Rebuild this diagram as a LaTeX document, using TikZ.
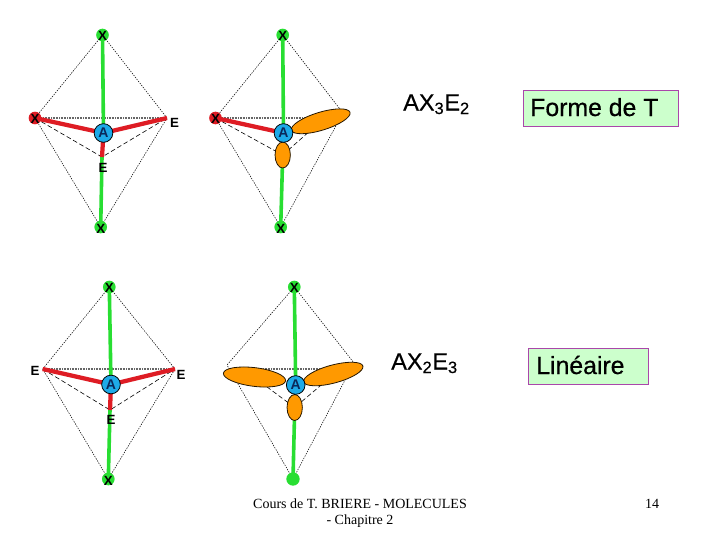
\documentclass[tikz,border=0pt]{standalone}
\usepackage{fontspec}
\setmainfont{Liberation Sans}
\newfontfamily\serifface{Liberation Serif}
\newfontfamily\heavyface[FakeBold=0.5]{Liberation Sans}
\newfontfamily\boldface{Liberation Sans Bold}
\definecolor{gbond}{RGB}{40,222,50}
\definecolor{rbond}{RGB}{222,28,36}
\definecolor{ablue}{RGB}{30,170,232}
\definecolor{lobe}{RGB}{255,153,0}
\definecolor{boxfill}{RGB}{204,255,204}
\definecolor{boxline}{RGB}{170,70,170}
\definecolor{atext}{RGB}{10,40,90}
\tikzset{
  pt/.style={inner sep=0pt,minimum size=0pt,outer sep=0pt},
  edgeline/.style={black,line width=0.4pt,dash pattern=on 1pt off 0.9pt},
  rearline/.style={black,line width=0.45pt,dash pattern=on 3.5pt off 2pt},
  planeline/.style={black!60,line width=1.1pt,dash pattern=on 0.6pt off 0.6pt},
  gb/.style={gbond,line width=2.7pt},
  rb/.style={rbond,line width=3.2pt},
  gdot/.style={circle,fill=gbond,inner sep=0pt,minimum size=9.5pt},
  rdot/.style={circle,fill=rbond,inner sep=0pt,minimum size=9.5pt},
  centre/.style={circle,draw=black,line width=0.6pt,fill=ablue,inner sep=0pt,minimum size=14pt,text=atext,font=\fontsize{10.5}{11}\boldface},
  lab/.style={inner sep=0pt,font=\fontsize{10}{10}\boldface},
  lobeshape/.style={ellipse,draw=black!85!lobe,line width=0.6pt,fill=lobe,inner sep=0pt},
  formula/.style={inner sep=0pt,anchor=base west,font=\fontsize{17.6}{18}\heavyface},
  namebox/.style={draw=boxline,line width=0.7pt,fill=boxfill,inner sep=0pt,anchor=north west},
  boxtext/.style={inner sep=0pt,anchor=base west,font=\fontsize{18.6}{20}\heavyface},
  foot/.style={inner sep=0pt,font=\fontsize{10.5}{12}\serifface},
}
\usetikzlibrary{shapes.geometric}
\begin{document}
\begin{tikzpicture}[x=0.75pt,y=-0.75pt]
\useasboundingbox (0,0) rectangle (720,540);
% ---------- diagram 1
\coordinate (at) at (102.5,35);
\coordinate (al) at (35,118);
\coordinate (ar) at (167,118);
\coordinate (af) at (102,157);
\coordinate (ab) at (100.7,227);
\coordinate (ac) at (103.5,133);
\draw[edgeline] (at)--(al) (at)--(ar) (ab)--(al) (ab)--(ar);
\draw[rearline] (al)--(af)--(ar);
\draw[planeline] (al)--(ar);
\draw[gb] (at)--(ac) (af)--(ab);
\draw[rb] (al)--(ac) (ar)--(ac) (ac)--(af);
\node[gdot] (atd) at (at) {};
\node[gdot] (abd) at (ab) {};
\node[rdot] (ald) at (al) {};
\node[centre] (aA) at (ac) {A};
\node[lab] (aXt) at (102.5,36) {X};
\node[lab] (aXb) at (100.7,229) {X};
\node[lab] (aXl) at (35,118.5) {X};
\node[lab] (aEr) at (174.5,122.5) {E};
\node[lab] (aEf) at (103,168) {E};
% ---------- diagram 2
\coordinate (bt) at (282.7,35);
\coordinate (bl) at (215.5,118);
\coordinate (br) at (343,113);
\coordinate (bf) at (282.7,155);
\coordinate (bb) at (280.7,227);
\coordinate (bc) at (283.5,133);
\draw[edgeline] (bt)--(bl) (bt)--(br) (bb)--(bl) (bb)--(br);
\draw[rearline] (bl)--(bf) (bf)--(320,122);
\draw[planeline] (bl)--(320,118);
\draw[gb] (bt)--(bc) (bf)--(bb);
\draw[rb] (bl)--(bc);
\node[gdot] (btd) at (bt) {};
\node[gdot] (bbd) at (bb) {};
\node[rdot] (bld) at (bl) {};
\node[lobeshape,minimum width=46pt,minimum height=13.5pt,rotate=17] (blobe) at (320.7,121.3) {};
\node[lobeshape,minimum width=11.5pt,minimum height=19.5pt] (bflobe) at (bf) {};
\node[centre] (bA) at (bc) {A};
\node[lab] (bXt) at (282.7,36) {X};
\node[lab] (bXb) at (280.7,229) {X};
\node[lab] (bXl) at (215.5,118.5) {X};
% ---------- diagram 3
\coordinate (ct) at (109.3,287);
\coordinate (cl) at (42.7,369);
\coordinate (cr) at (175,369);
\coordinate (cf) at (110,410);
\coordinate (cb) at (108.3,479);
\coordinate (cc) at (111,384.5);
\draw[edgeline] (ct)--(cl) (ct)--(cr) (cb)--(cl) (cb)--(cr);
\draw[rearline] (cl)--(cf)--(cr);
\draw[planeline] (cl)--(cr);
\draw[gb] (ct)--(cc) (cf)--(cb);
\draw[rb] (cl)--(cc) (cr)--(cc) (cc)--(cf);
\node[gdot] (ctd) at (ct) {};
\node[gdot] (cbd) at (cb) {};
\node[centre] (cA) at (cc) {A};
\node[lab] (cXt) at (109.3,288) {X};
\node[lab] (cXb) at (108.3,481) {X};
\node[lab] (cEl) at (35,371) {E};
\node[lab] (cEr) at (181,374.5) {E};
\node[lab] (cEf) at (111,420) {E};
% ---------- diagram 4
\coordinate (dt) at (294.3,287);
\coordinate (dl) at (227,365);
\coordinate (dr) at (354,363);
\coordinate (df) at (294.7,407.5);
\coordinate (db) at (293,479);
\coordinate (dc) at (295.7,385);
\draw[edgeline] (dt)--(dl) (dt)--(dr) (db)--(dl) (db)--(dr);
\draw[rearline] (255,378)--(df)--(333,375);
\draw[planeline] (255,369)--(333,369);
\draw[gb] (dt)--(dc) (df)--(db);
\node[gdot] (dtd) at (dt) {};
\node[gdot,minimum size=10pt] (dbd) at (db) {};
\node[lobeshape,minimum width=47pt,minimum height=14pt,rotate=-7] (dllobe) at (254.5,377) {};
\node[lobeshape,minimum width=46pt,minimum height=13.5pt,rotate=15] (drlobe) at (333.3,374) {};
\node[lobeshape,minimum width=11.5pt,minimum height=19.5pt] (dflobe) at (df) {};
\node[centre] (dA) at (dc) {A};
\node[lab] (dXt) at (294.3,288) {X};
% ---------- texts
\node[formula] (f1) at (403,110.5) {AX\textsubscript{3}E\textsubscript{2}};
\node[formula] (f2) at (391,369.5) {AX\textsubscript{2}E\textsubscript{3}};
\node[namebox,minimum width=116.5pt,minimum height=27pt] (n1) at (522.7,90) {};
\node[boxtext] (n1t) at (530,116) {Forme de T};
\node[namebox,minimum width=90pt,minimum height=27pt] (n2) at (528,348) {};
\node[boxtext] (n2t) at (536,374) {Linéaire};
\node[foot] (ft1) at (360,504) {Cours de T. BRIERE - MOLECULES};
\node[foot] (ft2) at (360,521) {- Chapitre 2};
\node[foot] (pg) at (652,504) {14};
\end{tikzpicture}
\end{document}
